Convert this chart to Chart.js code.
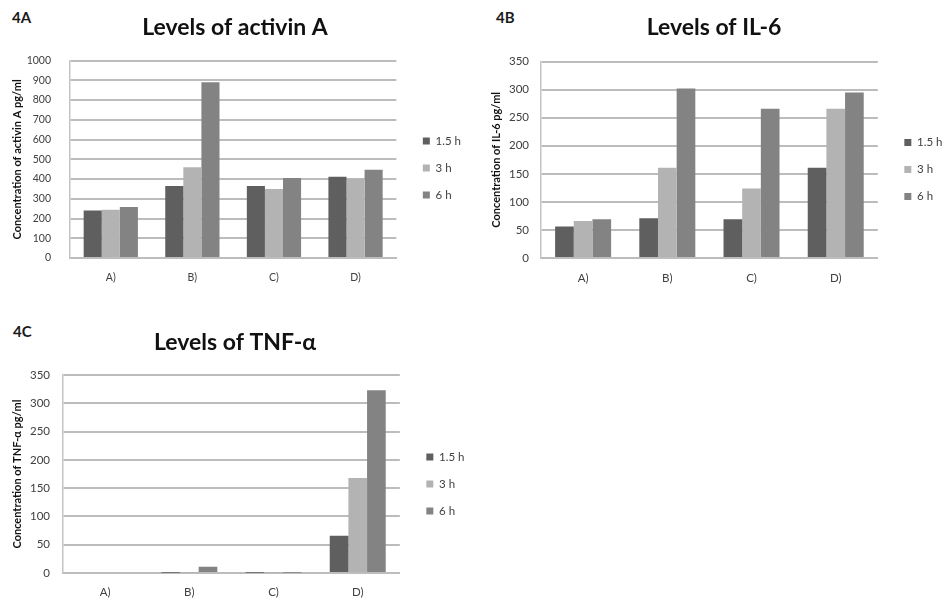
<!DOCTYPE html>
<html>
<head>
<meta charset="utf-8">
<script src="https://cdn.jsdelivr.net/npm/chart.js@4.4.0/dist/chart.umd.min.js"></script>
<style>
  html, body { margin: 0; padding: 0; background: #ffffff; width: 944px; height: 600px; overflow: hidden; position: relative; }
  .box { position: absolute; }
  .tag { position: absolute; font-family: Lato, "Open Sans", sans-serif; font-weight: bold; font-size: 15px; color: #1a1a1a; }
</style>
</head>
<body>
<div class="tag" style="left:12px;top:8px;">4A</div>
<div class="tag" style="left:496px;top:8px;">4B</div>
<div class="tag" style="left:13px;top:322px;">4C</div>
<div class="box" style="left:0px;top:0px;width:470px;height:300px;"><canvas id="c1"></canvas></div>
<div class="box" style="left:480px;top:0px;width:468px;height:300px;"><canvas id="c2"></canvas></div>
<div class="box" style="left:0px;top:310px;width:470px;height:290px;"><canvas id="c3"></canvas></div>
<script>
const categories = ['A)', 'B)', 'C)', 'D)'];
const seriesLabels = ['1.5 h', '3 h', '6 h'];
const seriesColors = ['#5f5f5f', '#b3b3b3', '#838383'];

const activin_1_5h = [240, 365, 365, 412];
const activin_3h   = [245, 460, 350, 402];
const activin_6h   = [258, 890, 405, 447];

const il6_1_5h = [56, 71, 69, 161];
const il6_3h   = [66, 161, 124, 266];
const il6_6h   = [69, 302, 266, 295];

const tnf_1_5h = [0, 0.5, 0.5, 66];
const tnf_3h   = [0, 0.5, 0.5, 168];
const tnf_6h   = [0, 11, 0.5, 323];

const titles = ['Levels of activin A', 'Levels of IL-6', 'Levels of TNF-\u03b1'];
const yTitles = ['Concentration of activin A pg/ml', 'Concentration of IL-6 pg/ml', 'Concentration of TNF-\u03b1 pg/ml'];
const yMax = [1000, 350, 350];
const yStep = [100, 50, 50];

const legendShift = {
  id: 'legendShift',
  afterLayout(chart, args, opts) {
    const lg = chart.legend;
    if (!lg) return;
    const dx = opts.dx || 0, dy = opts.dy || 0;
    lg.left += dx; lg.right += dx; lg.top += dy; lg.bottom += dy;
  }
};

const FONT = 'Lato, "Open Sans", sans-serif';

function makeChart(id, idx, values, L) {
  const datasets = values.map((v, i) => ({
    label: seriesLabels[i],
    data: v,
    backgroundColor: seriesColors[i],
    borderColor: seriesColors[i],
    borderWidth: 0,
    categoryPercentage: 0.665,
    barPercentage: 1.0
  }));
  return new Chart(document.getElementById(id), {
    type: 'bar',
    data: { labels: categories, datasets },
    plugins: [legendShift],
    options: {
      responsive: true,
      maintainAspectRatio: false,
      animation: false,
      layout: { padding: { left: L.padLeft, right: L.padRight, top: 0, bottom: 0 } },
      plugins: {
        tooltip: { enabled: false },
        title: {
          display: true,
          text: titles[idx],
          color: '#111111',
          font: { family: FONT, size: 23, weight: 'bold', lineHeight: 1.2 },
          padding: { top: L.titleTop, bottom: L.titleBottom }
        },
        legend: {
          display: true,
          position: 'right',
          labels: {
            color: '#404040',
            font: { family: FONT, size: 11.5 },
            boxWidth: 7,
            boxHeight: 7,
            padding: 15.5
          }
        },
        legendShift: { dx: L.dx, dy: L.dy }
      },
      scales: {
        x: {
          grid: { display: false, drawTicks: false },
          border: { display: true, color: '#bdbdbd', width: 2 },
          ticks: { color: '#404040', font: { family: FONT, size: L.tickSize }, padding: L.xPad },
          afterFit: (s) => { s.height = L.xHeight; }
        },
        y: {
          min: 0,
          max: yMax[idx],
          ticks: { stepSize: yStep[idx], color: '#404040', font: { family: FONT, size: L.tickSize }, padding: L.yPad,
                   callback: (v) => String(v) },
          grid: { color: '#bcbcbc', lineWidth: 2, drawTicks: false },
          border: { display: true, color: '#c4c4c4', width: 1.5 },
          title: {
            display: true,
            text: yTitles[idx],
            color: '#111111',
            font: { family: FONT, size: 11, weight: 'bold', lineHeight: 1.2 },
            padding: { top: L.yTitleTop, bottom: 0 }
          },
          afterFit: (s) => { s.width = L.yWidth; }
        }
      }
    }
  });
}

makeChart('c1', 0, [activin_1_5h, activin_3h, activin_6h],
  { padLeft: 10, padRight: 10, titleTop: 14, titleBottom: 19, xHeight: 42, xPad: 13, yPad: 19, yWidth: 60, yTitleTop: 1, dx: 11, dy: 18, tickSize: 10.5 });
makeChart('c2', 1, [il6_1_5h, il6_3h, il6_6h],
  { padLeft: 6.5, padRight: 6.5, titleTop: 14, titleBottom: 20, xHeight: 42, xPad: 13, yPad: 12, yWidth: 54.5, yTitleTop: 3.5, dx: 11, dy: 19.5, tickSize: 11.5 });
makeChart('c3', 2, [tnf_1_5h, tnf_3h, tnf_6h],
  { padLeft: 6.5, padRight: 6.5, titleTop: 18.5, titleBottom: 19, xHeight: 27, xPad: 12, yPad: 13, yWidth: 56.5, yTitleTop: 4.5, dx: 11, dy: 29, tickSize: 11.5 });
</script>
</body>
</html>
